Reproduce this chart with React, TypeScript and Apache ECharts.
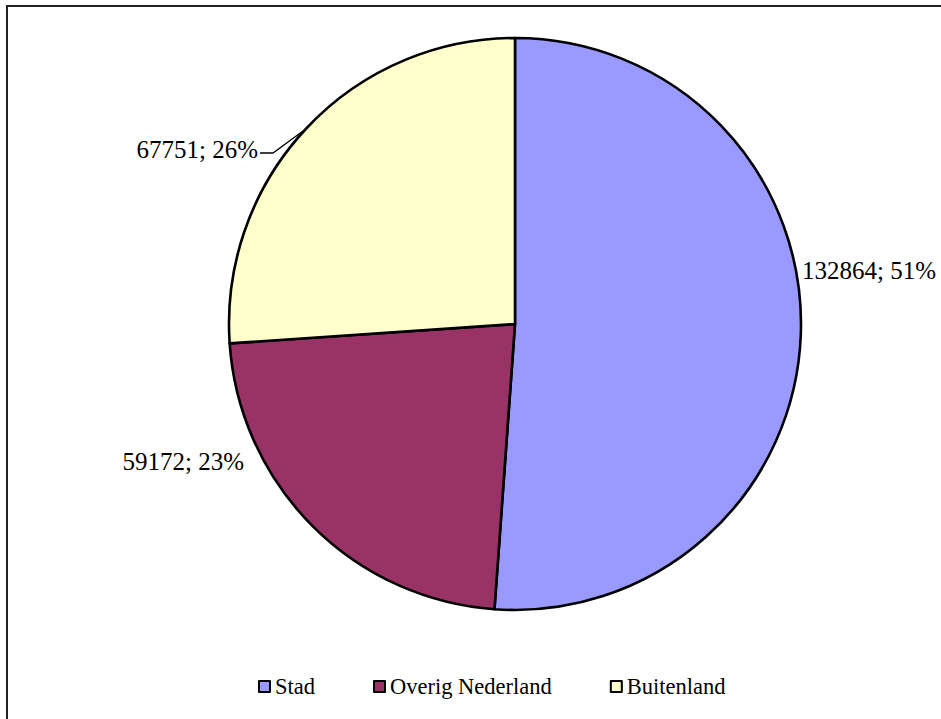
import React, { useEffect, useRef } from "react";
import * as echarts from "echarts";

const categories = ["Stad", "Overig Nederland", "Buitenland"];
const values = [132864, 59172, 67751];
const colors = ["#9999FF", "#993366", "#FFFFCC"];

export default function App() {
  const ref = useRef<HTMLDivElement>(null);
  useEffect(() => {
    document.body.style.overflow = "hidden";
    const chart = echarts.init(ref.current!, null, { renderer: "svg" });
    const font = "serif";
    chart.setOption({
      animation: false,
      backgroundColor: "transparent",
      textStyle: { fontFamily: font },
      legend: {
        data: categories,
        left: 253,
        top: 670,
        icon: "rect",
        itemWidth: 11,
        itemHeight: 11,
        itemGap: 58,
        textStyle: { fontFamily: font, fontSize: 22.5, color: "#000" },
        itemStyle: { borderColor: "#000", borderWidth: 2 },
      },
      series: [
        {
          type: "pie",
          center: [515, 324],
          radius: 286,
          startAngle: 90,
          clockwise: true,
          percentPrecision: 0,
          itemStyle: { borderColor: "#000", borderWidth: 2.6 },
          emphasis: { disabled: true },
          label: {
            show: true,
            position: "outside",
            alignTo: "none",
            overflow: "none",
            fontFamily: font,
            fontSize: 25,
            color: "#000",
            formatter: (p: any) => `${p.value}; ${Math.round(p.percent)}%`,
          },
          labelLine: { show: false, lineStyle: { color: "#000", width: 1.3 } },
          labelLayout: (p: any) => {
            if (p.dataIndex === 0) {
              return { x: 802, y: 270, align: "left", verticalAlign: "middle" };
            }
            if (p.dataIndex === 1) {
              return { x: 244, y: 461, align: "right", verticalAlign: "middle" };
            }
            return {
              x: 258,
              y: 149,
              align: "right",
              verticalAlign: "middle",
              labelLinePoints: [
                [303, 131],
                [273, 153],
                [260, 153],
              ],
            };
          },
          data: categories.map((name, i) => ({
            name,
            value: values[i],
            itemStyle: { color: colors[i] },
            labelLine: { show: i === 2 },
          })),
        },
      ],
    });
    return () => chart.dispose();
  }, []);
  return (
    <div
      style={{
        position: "fixed",
        left: 0,
        top: 0,
        width: 941,
        height: 719,
        overflow: "hidden",
        background: "#fff",
      }}
    >
      <div
        style={{
          position: "absolute",
          left: 6,
          top: 5,
          width: 980,
          height: 740,
          border: "2px solid #222",
        }}
      />
      <div
        ref={ref}
        style={{ position: "absolute", left: 0, top: 0, width: 941, height: 719 }}
      />
    </div>
  );
}
